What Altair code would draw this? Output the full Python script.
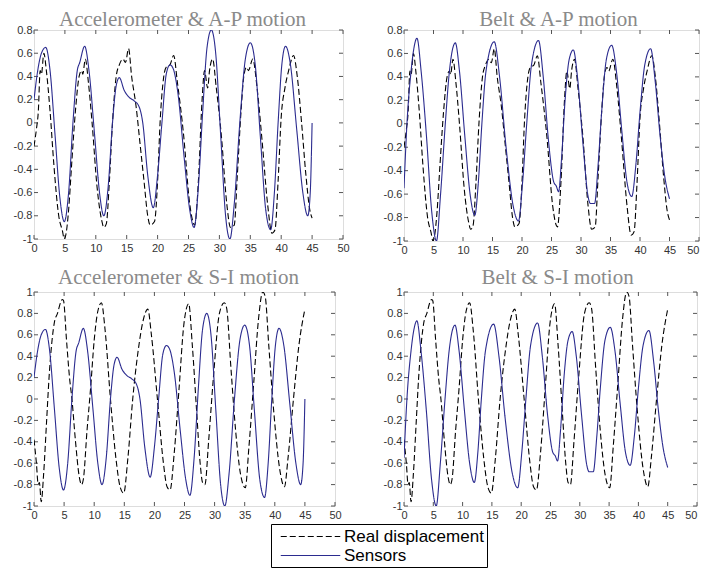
import altair as alt
import pandas as pd

# ---------------- data ----------------
# Accelerometer sensor signal (blue, left panels)
acc_x = [0, 0.6, 1.2, 1.9, 2.6, 3.4, 4.2, 4.9, 5.6, 6.3, 7.0, 7.4, 8.2, 8.9, 9.8, 10.6, 11.3,
         12.0, 12.7, 13.3, 13.8, 14.6, 15.4, 16.2, 17.0, 17.6, 18.4, 19.3, 20.0, 20.7, 21.4, 22.0, 22.5,
         23.3, 24.3, 25.2, 25.9, 26.6, 27.3, 28.0, 28.7, 29.4, 30.2, 31.0, 31.7, 32.4, 33.3, 34.2, 35.0,
         35.8, 36.6, 37.5, 38.3, 38.9, 39.5, 40.1, 40.7, 41.5, 42.5, 43.5, 44.3, 44.7, 45.0]
acc_y = [0.20, 0.45, 0.60, 0.65, 0.45, -0.10, -0.65, -0.85, -0.60, 0.00, 0.45, 0.52, 0.66, 0.45, -0.10, -0.60, -0.80,
         -0.55, 0.00, 0.32, 0.39, 0.28, 0.22, 0.19, 0.14, 0.00, -0.45, -0.73, -0.45, 0.00, 0.42, 0.50, 0.47,
         0.25, -0.30, -0.75, -0.90, -0.55, 0.10, 0.65, 0.80, 0.60, -0.10, -0.80, -1.00, -0.70, 0.00, 0.55, 0.69,
         0.50, -0.10, -0.75, -0.92, -0.60, 0.00, 0.50, 0.66, 0.50, -0.05, -0.60, -0.80, -0.60, 0.00]

# Belt sensor signal (blue, right panels)
belt_x = [0, 0.5, 1.2, 1.6, 2.2, 2.9, 3.8, 4.7, 5.5, 6.2, 7.0, 7.7, 8.7, 9.4, 10.3, 11.2, 12.0,
          12.6, 13.2, 13.9, 15.3, 16.2, 17.3, 18.5, 19.4, 20.1, 20.8, 21.6, 22.8, 23.6, 24.5, 25.4, 25.8, 26.2,
          26.7, 27.3, 28.0, 28.7, 29.4, 30.3, 31.2, 31.6, 32.3, 32.9, 33.5, 34.3, 35.2, 36.0, 36.9, 37.8, 38.6,
          39.3, 40.0, 40.8, 41.8, 42.6, 43.4, 44.2, 45.0]
belt_y = [-0.55, 0.00, 0.45, 0.62, 0.73, 0.45, -0.10, -0.75, -1.00, -0.60, 0.00, 0.45, 0.69, 0.45, -0.10, -0.60, -0.78,
          -0.50, 0.00, 0.45, 0.70, 0.40, -0.20, -0.70, -0.83, -0.50, 0.00, 0.50, 0.71, 0.40, -0.15, -0.50, -0.53, -0.58,
          -0.30, 0.20, 0.55, 0.63, 0.40, -0.15, -0.62, -0.68, -0.68, -0.35, 0.10, 0.55, 0.67, 0.45, -0.05, -0.50, -0.62,
          -0.35, 0.10, 0.50, 0.64, 0.35, -0.10, -0.45, -0.64]

# Real A-P displacement (dashed, top panels)
ap_x = [0, 0.4, 0.7, 1.0, 1.2, 1.6, 2.0, 2.6, 3.2, 4.0, 4.6, 4.9, 5.2, 5.6, 6.1, 6.7, 7.3, 7.7, 7.9, 8.3,
        8.8, 9.4, 10.2, 11.0, 11.3, 11.7, 12.2, 12.7, 13.3, 13.8, 14.4, 14.8, 15.3, 15.8, 16.5, 17.2, 17.8,
        18.4, 18.8, 19.5, 20.0, 20.4, 21.0, 21.4, 22.0, 22.6, 23.2, 24.2, 25.2, 26.0, 26.6, 27.2, 27.6, 28.1,
        28.4, 28.9, 29.5, 30.3, 31.2, 31.8, 32.4, 32.9, 33.5, 34.0, 34.4, 34.7, 35.4, 36.1, 36.9, 37.8, 38.5,
        39.0, 39.5, 40.0, 40.6, 41.2, 42.0, 42.6, 43.3, 44.0, 44.6, 45.0]
ap_y = [-0.20, -0.05, 0.10, 0.45, 0.42, 0.60, 0.45, 0.10, -0.35, -0.80, -0.93, -1.00, -0.95, -0.75, -0.35, 0.10, 0.40, 0.45, 0.42, 0.55,
        0.35, 0.00, -0.55, -0.85, -0.90, -0.87, -0.50, 0.00, 0.40, 0.50, 0.55, 0.52, 0.64, 0.40, 0.15, -0.20, -0.50,
        -0.80, -0.88, -0.85, -0.50, 0.00, 0.40, 0.48, 0.50, 0.58, 0.35, -0.10, -0.70, -0.88, -0.50, 0.20, 0.45, 0.30,
        0.45, 0.55, 0.30, -0.10, -0.70, -0.90, -0.88, -0.45, 0.10, 0.42, 0.48, 0.45, 0.55, 0.30, -0.15, -0.70, -0.95,
        -0.92, -0.50, 0.05, 0.30, 0.45, 0.58, 0.40, 0.00, -0.45, -0.74, -0.82]

# Real S-I displacement (dashed, bottom panels)
si_x = [0, 0.4, 0.7, 0.9, 1.2, 1.6, 2.1, 2.5, 3.0, 3.4, 3.9, 4.4, 4.7, 4.9, 5.4, 5.9, 6.3, 6.9, 7.5, 7.9, 8.2,
        8.8, 9.4, 10.0, 10.6, 11.2, 11.8, 12.7, 13.6, 14.3, 14.9, 15.6, 16.4, 17.3, 18.2, 18.9, 19.5, 20.5, 21.5,
        22.1, 22.6, 23.3, 24.1, 24.9, 25.7, 26.3, 27.0, 27.6, 28.0, 28.4, 29.0, 29.8, 30.8, 31.6, 32.0, 32.7,
        33.5, 34.3, 35.1, 35.7, 36.5, 37.3, 38.0, 38.4, 39.0, 39.8, 40.8, 41.6, 42.2, 43.1, 44.0, 45.0]
si_y = [-0.38, -0.60, -0.80, -0.78, -0.96, -0.70, -0.20, 0.20, 0.55, 0.72, 0.80, 0.90, 0.93, 0.92, 0.55, 0.20, 0.00, -0.40, -0.72, -0.80, -0.75,
        -0.30, 0.10, 0.55, 0.82, 0.90, 0.65, 0.00, -0.55, -0.82, -0.88, -0.55, 0.00, 0.45, 0.75, 0.84, 0.60, 0.00, -0.60,
        -0.82, -0.85, -0.50, 0.10, 0.70, 0.89, 0.50, -0.10, -0.60, -0.78, -0.80, -0.40, 0.20, 0.80, 0.90, 0.85, 0.30,
        -0.30, -0.70, -0.83, -0.45, 0.15, 0.75, 1.00, 0.96, 0.50, -0.10, -0.65, -0.82, -0.55, 0.00, 0.50, 0.84]

series_names = ["Real displacement", "Sensors"]
panel_titles = ["Accelerometer & A-P motion", "Belt & A-P motion",
                "Accelerometer & S-I motion", "Belt & S-I motion"]
x_ticks = [0, 5, 10, 15, 20, 25, 30, 35, 40, 45, 50]
y_ticks_top = [-1, -0.8, -0.6, -0.4, -0.2, 0, 0.2, 0.4, 0.6, 0.8]
y_ticks_bottom = [-1, -0.8, -0.6, -0.4, -0.2, 0, 0.2, 0.4, 0.6, 0.8, 1]

# ---------------- styling ----------------
BLUE = "#2b2b8f"
TICK = "#555555"
LABEL_FONT = "Liberation Sans"

color_scale = alt.Scale(domain=series_names, range=["#000000", BLUE])
dash_scale = alt.Scale(domain=series_names, range=[[6, 3], [1, 0]])

legend = alt.Legend(
    title=None, orient="none", legendX=237, legendY=494,
    symbolType="M-3.5,0H3.5", symbolSize=289, symbolStrokeWidth=1.2, symbolOffset=27,
    labelFont=LABEL_FONT, labelFontSize=17, labelColor="black", labelOffset=24,
    strokeColor="black", fillColor="white", padding=3, rowPadding=1,
)

label_expr = "replace(format(datum.value, '~g'), '\u2212', '-')"


def panel(title, dx, ty, sx, sy, dxs, dys, ydom, yticks, w, h, right_col):
    df = pd.DataFrame({
        "t": list(dxs) + list(sx),
        "v": list(dys) + list(sy),
        "series": [series_names[0]] * len(dxs) + [series_names[1]] * len(sx),
    })
    xs = alt.Scale(domain=[0, 50], nice=False, zero=False)
    ys = alt.Scale(domain=ydom, nice=False, zero=False)
    x_align = ({"condition": {"test": "datum.value == 50", "value": "right"}, "value": "center"}
               if right_col else "center")
    x_axis = alt.Axis(values=x_ticks, tickSize=0, labelPadding=3, domain=False, grid=False,
                      title=None, labelFlush=False, labelFont=LABEL_FONT, labelFontSize=11,
                      labelColor="#333333", labelAlign=x_align)
    y_axis = alt.Axis(values=yticks, tickSize=0, labelPadding=2, domain=False, grid=False,
                      title=None, labelFlush=False, labelFont=LABEL_FONT, labelFontSize=11,
                      labelColor="#333333", labelExpr=label_expr, minExtent=25, maxExtent=200)

    lines = alt.Chart(df).mark_line(interpolate="monotone", strokeWidth=1.1, clip=True).encode(
        x=alt.X("t:Q", scale=xs, axis=x_axis),
        y=alt.Y("v:Q", scale=ys, axis=y_axis),
        color=alt.Color("series:N", scale=color_scale, legend=legend),
        strokeDash=alt.StrokeDash("series:N", scale=dash_scale, legend=legend),
    )
    ydf = pd.DataFrame({"v": yticks})
    xdf = pd.DataFrame({"t": x_ticks})
    yl = alt.Chart(ydf).mark_rule(color=TICK, strokeWidth=1).encode(
        y=alt.Y("v:Q", scale=ys, axis=y_axis), x=alt.value(0), x2=alt.value(4))
    yr = alt.Chart(ydf).mark_rule(color=TICK, strokeWidth=1).encode(
        y=alt.Y("v:Q", scale=ys, axis=y_axis), x=alt.value(w - 4), x2=alt.value(w))
    xb = alt.Chart(xdf).mark_rule(color=TICK, strokeWidth=1).encode(
        x=alt.X("t:Q", scale=xs, axis=x_axis), y=alt.value(h - 4), y2=alt.value(h))
    xt = alt.Chart(xdf).mark_rule(color=TICK, strokeWidth=1).encode(
        x=alt.X("t:Q", scale=xs, axis=x_axis), y=alt.value(0), y2=alt.value(4))
    ttl = alt.Chart(pd.DataFrame({"title": [title]})).mark_text(
        font="Liberation Serif", fontSize=21, color="#8a8a8a", align="center",
        baseline="alphabetic"
    ).encode(text="title:N", x=alt.value(w / 2 + dx), y=alt.value(ty))
    return alt.layer(yl, yr, xb, xt, lines, ttl).properties(width=w, height=h)


tl = panel(panel_titles[0], -6, -4, acc_x, acc_y, ap_x, ap_y, [-1, 0.8], y_ticks_top, 309, 209, False)
tr = panel(panel_titles[1], 7, -4, belt_x, belt_y, ap_x, ap_y, [-1, 0.8], y_ticks_top, 295, 211, True)
bl = panel(panel_titles[2], -6, -8, acc_x, acc_y, si_x, si_y, [-1, 1], y_ticks_bottom, 301, 214, False)
br = panel(panel_titles[3], 7, -8, belt_x, belt_y, si_x, si_y, [-1, 1], y_ticks_bottom, 293, 214, True)

chart = alt.concat(
    tl, tr, bl, br, columns=2, spacing={"row": 48, "column": 61}, align="all", bounds="flush",
    padding={"left": 0, "top": 0, "right": 0, "bottom": 0}
).configure_view(
    stroke="#666666", strokeWidth=1
).configure(background="white")

chart.save("out.html", embed_options={"renderer": "svg", "actions": False})
